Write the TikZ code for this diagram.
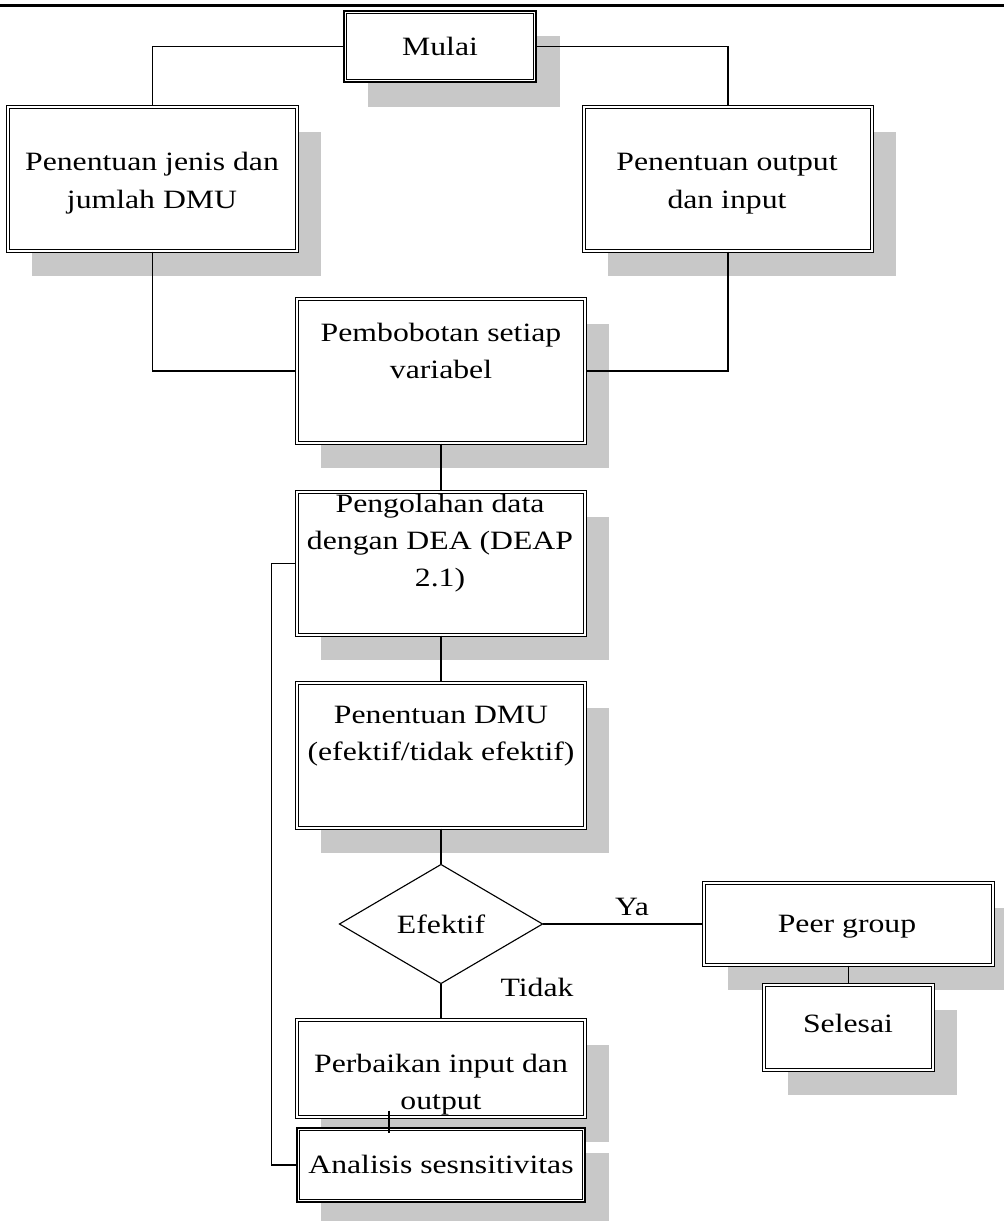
\documentclass[tikz,border=0pt]{standalone}
\usepackage{fontspec}
\setmainfont{Liberation Serif}[FakeStretch=1.2]
\usetikzlibrary{shapes.geometric,fit,shadows}
\definecolor{shadowgray}{RGB}{200,200,200}
\newcommand{\twol}[1]{\begin{tabular}[t]{@{}c@{}}#1\end{tabular}}
\begin{document}
\begin{tikzpicture}[x=0.025cm,y=-0.025cm,
  every node/.style={font=\fontsize{18.8}{26.6}\selectfont},
  shad/.style={drop shadow={shadow xshift=0.6cm,shadow yshift=-0.625cm,fill=shadowgray,opacity=1}},
  dbox/.style={draw,double,line width=0.9pt,double distance=1.6pt,fill=white,inner sep=0pt,shad},
  tbox/.style={draw,line width=2pt,fill=white,inner sep=0pt,shad},
  innerline/.style={line width=0.8pt},
  txt/.style={anchor=base,inner sep=0pt},
  conn/.style={line width=0.9pt}]
\useasboundingbox (0,0) rectangle (1004,1221);
% top rule
\draw[line width=2pt] (0,5.5) -- (1004,5.5);
% boxes
\node[tbox,fit={(344,11) (536,82)}] (m) {};
\draw[innerline] ([shift={(4,4)}]m.north west) rectangle ([shift={(-4,-4)}]m.south east);
\node[dbox,fit={(8,107) (297,251)}] (b1) {};
\node[dbox,fit={(584,107) (872,251)}] (b2) {};
\node[dbox,fit={(297,299) (585,443)}] (b3) {};
\node[dbox,fit={(297,492) (585,635)}] (b4) {};
\node[dbox,fit={(297,683) (585,828)}] (b5) {};
\node[draw,diamond,line width=0.8pt,inner sep=0pt,outer sep=0pt,minimum width=5.075cm,minimum height=2.975cm,fill=white] (d) at (441,924) {Efektif};
\node[dbox,fit={(704,883) (993,965)}] (pg) {};
\node[dbox,fit={(764,985) (933,1070)}] (sl) {};
\node[dbox,fit={(297,1020) (585,1117)}] (b6) {};
\node[tbox,fit={(297,1128) (585,1202)}] (an) {};
\draw[innerline] ([shift={(4,4)}]an.north west) rectangle ([shift={(-4,-4)}]an.south east);
% connectors
\draw[conn] (m.west) -| (b1.north);
\draw[conn] (m.east) -| (b2.north);
\draw[conn] (b1.south) |- (b3.west);
\draw[conn] (b2.south) |- (b3.east);
\draw[conn] (b3.south) -- (b4.north);
\draw[conn] (b4.south) -- (b5.north);
\draw[conn] (b5.south) -- (d.north);
\draw[conn] (d.east) -- (pg.west);
\draw[conn] (d.south) -- (b6.north);
\draw[conn] (pg.south) -- (sl.north);
\draw[conn] ([shift={(-52,-7)}]b6.south) -- ([shift={(-52,6)}]an.north);
\draw[conn] (an.west) -- ++(-24,0) |- (b4.west);
% texts
\node[txt] (tm) at (440,56) {Mulai};
\node[txt] (t1) at (152,171) {\twol{Penentuan jenis dan\\jumlah DMU}};
\node[txt] (t2) at (727,171) {\twol{Penentuan output\\dan input}};
\node[txt] (t3) at (441,341) {\twol{Pembobotan setiap\\variabel}};
\node[txt] (t4) at (440,512) {\twol{Pengolahan data\\dengan DEA (DEAP\\2.1)}};
\node[txt] (t5) at (441,723) {\twol{Penentuan DMU\\(efektif/tidak efektif)}};
\node[txt] (tpg) at (847,932) {Peer group};
\node[txt] (tsl) at (848,1032) {Selesai};
\node[txt] (t6) at (441,1072) {\twol{Perbaikan input dan\\output}};
\node[txt] (tan) at (441,1173) {Analisis sesnsitivitas};
\node[txt] (ya) at (632,915) {Ya};
\node[txt] (td) at (537,996) {Tidak};
\end{tikzpicture}
\end{document}
